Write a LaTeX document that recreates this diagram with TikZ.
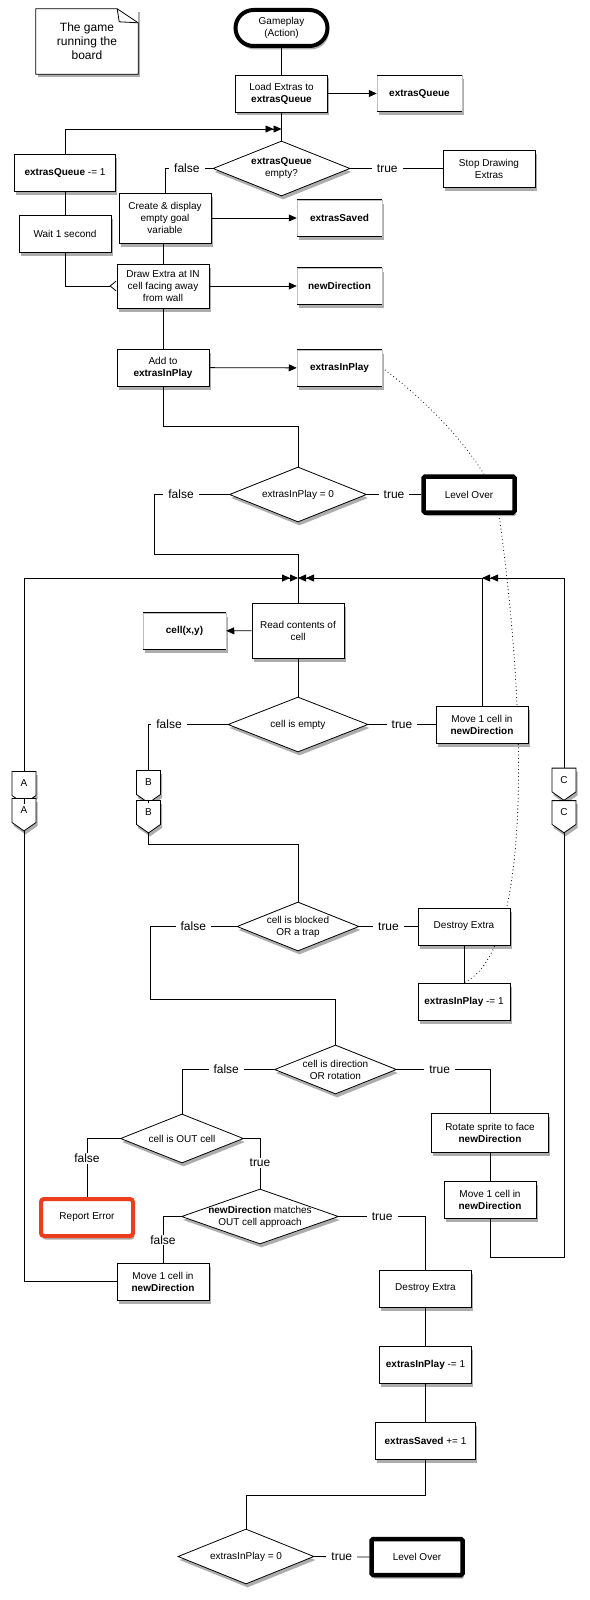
\documentclass[tikz,border=0pt]{standalone}
\usepackage{fontspec}
\setmainfont{Liberation Sans}
\usetikzlibrary{arrows.meta,positioning,calc,shapes.geometric,shapes.symbols,shadows,backgrounds}
\definecolor{errred}{RGB}{236,62,30}

\begin{document}
\begin{tikzpicture}[
    x=1pt, y=-1pt,
    font=\fontsize{10}{12}\selectfont,
    shd/.style={drop shadow={shadow xshift=1.5pt, shadow yshift=-3.5pt, opacity=0.32, fill=black}},
    box/.style={draw, fill=white, line width=0.8pt, align=center, minimum width=92pt, minimum height=37pt, inner sep=2pt, shd},
    datastore/.style={fill=white, draw=black!25, line width=0.5pt, minimum width=85pt, minimum height=36pt,
      font=\fontsize{10}{12}\selectfont\bfseries, shd,
      append after command={(\tikzlastnode.north west) edge[draw=black, line width=1.1pt] (\tikzlastnode.north east)
        (\tikzlastnode.south west) edge[draw=black, line width=1.1pt] (\tikzlastnode.south east)}},
    decision/.style={diamond, draw, fill=white, line width=0.8pt, align=center, aspect=2.5, inner sep=-4pt,
      minimum width=137pt, minimum height=55pt, shd},
    terminal/.style={draw, fill=white, line width=4pt, rounded corners=18pt, align=center, minimum width=92pt, minimum height=36pt, shd},
    endbox/.style={draw, fill=white, line width=4.5pt, rounded corners=1.5pt, minimum width=91pt, minimum height=36pt, shd},
    errbox/.style={draw=errred, fill=white, line width=4pt, rounded corners=3pt, minimum width=92pt, minimum height=37pt, shd},
    offpage/.style={signal, signal to=south, draw, fill=white, line width=0.8pt, minimum width=24pt, minimum height=27pt,
      signal pointer angle=110, inner sep=1pt, shd},
    notebox/.style={fill=white, align=center, minimum width=102pt, minimum height=65pt, font=\fontsize{12}{14}\selectfont, shd},
    lbl/.style={fill=white, inner xsep=5pt, inner ysep=1pt, font=\fontsize{12}{14}\selectfont},
    conn/.style={line width=0.8pt},
    ar/.style={conn, -{Triangle[length=8pt,width=7pt]}},
    merge/.style={conn, -{Triangle[length=8pt,width=7pt] Triangle[length=8pt,width=7pt]}},
    barb/.style={conn, -{Straight Barb[reversed,length=6pt,width=10pt]}},
    dots/.style={line width=1.1pt, line cap=round, dash pattern=on 0pt off 3.6pt},
  ]
    \useasboundingbox (0,0) rectangle (589,1600);

    % note
    \node[notebox] (note) at (87,41.5) {The game\\running the\\board};
    \draw[conn] (note.north west) -- ([xshift=-21pt]note.north east) -- ([yshift=-14pt]note.north east)
      -- (note.south east) -- (note.south west) -- cycle;
    \draw[conn] ([xshift=-21pt]note.north east) -- ([xshift=-19pt,yshift=-13pt]note.north east) -- ([yshift=-14pt]note.north east);

    % loading the extras
    \node[terminal] (start) at (281.5,28) {Gameplay\\(Action)};
    \node[box] (load) at (281.5,93.5) {Load Extras to\\\textbf{extrasQueue}};
    \node[datastore] (dq) at (419.5,93.5) {extrasQueue};
    \node[decision] (dec1) at (281.5,168.5) {\textbf{extrasQueue}\\empty?};
    \node[box] (stop) at (489,168.5) {Stop Drawing\\Extras};
    \node[box, minimum width=101pt] (dec) at (65,172.5) {\textbf{extrasQueue} -= 1};
    \node[box] (wait) at (65,233.5) {Wait 1 second};
    \node[box, minimum height=50pt] (create) at (165,218) {Create \& display\\empty goal\\variable};
    \node[datastore] (ds) at (339.5,218) {extrasSaved};
    \node[box, minimum height=44pt] (place) at (163,286) {Draw Extra at IN\\cell facing away\\from wall};
    \node[datastore] (dn) at (339.5,286) {newDirection};
    \node[box] (add) at (163,367.5) {Add to\\\textbf{extrasInPlay}};
    \node[datastore] (dp) at (339.5,368) {extrasInPlay};
    \node[decision] (dec2) at (298,494.5) {extrasInPlay = 0};
    \node[endbox] (over1) at (469,494.5) {Level Over};

    % moving one extra
    \node[box, minimum height=55pt] (read) at (298,630.5) {Read contents of\\cell};
    \node[datastore, minimum width=83pt] (dc) at (184.5,631) {cell(x,y)};
    \node[decision, minimum width=140pt] (dec3) at (298,724.5) {cell is empty};
    \node[box] (move1) at (482,724.5) {Move 1 cell in\\\textbf{newDirection}};
    \node[offpage] (A1) at (24,783.5) {A};
    \node[offpage] (A2) at (24,810.5) {A};
    \node[offpage] (B1) at (148.5,782.5) {B};
    \node[offpage] (B2) at (148.5,812.5) {B};
    \node[offpage] (C1) at (564,780) {C};
    \node[offpage] (C2) at (564,812.5) {C};
    \node[decision, minimum width=122pt, minimum height=49pt] (dec4) at (298,926.5) {cell is blocked\\OR a trap};
    \node[box] (destroy1) at (464,926.5) {Destroy Extra};
    \node[box] (ip1) at (464,1001.5) {\textbf{extrasInPlay} -= 1};
    \node[decision, minimum width=122pt, minimum height=49pt] (dec5) at (335.5,1069.5) {cell is direction\\OR rotation};
    \node[box, minimum width=117pt, minimum height=39pt] (rotate) at (490,1132.5) {Rotate sprite to face\\\textbf{newDirection}};
    \node[box] (move3) at (490,1199.5) {Move 1 cell in\\\textbf{newDirection}};
    \node[decision, minimum width=123pt, minimum height=49pt] (dec6) at (182,1138.5) {cell is OUT cell};
    \node[errbox] (error) at (87,1217.5) {Report Error};
    \node[decision, minimum width=157pt, aspect=2.85] (dec7) at (260,1216.5) {\textbf{newDirection} matches\\OUT cell approach};
    \node[box] (move2) at (163,1281.5) {Move 1 cell in\\\textbf{newDirection}};
    \node[box] (destroy2) at (425.5,1288.5) {Destroy Extra};
    \node[box] (ip2) at (425.5,1364.5) {\textbf{extrasInPlay} -= 1};
    \node[box, minimum width=100pt] (saved) at (425.5,1440.5) {\textbf{extrasSaved} += 1};
    \node[decision, minimum width=136pt] (dec8) at (246,1556.5) {extrasInPlay = 0};
    \node[endbox] (over2) at (417,1557) {Level Over};

    % bends and joins
    \coordinate (jt) at (281.5,129);
    \coordinate (k2) at (298,426);
    \coordinate (k3) at (154,554);
    \coordinate (jn) at (298,578);
    \coordinate (jr) at (482,578);
    \coordinate (k4) at (150,999);
    \coordinate (k5) at (298,844);
    \coordinate (k6) at (564,1257);
    \coordinate (k8) at (246,1495);

    \draw[conn] (start) -- (load);
    \draw[ar] (load) -- (dq);
    \draw[conn] (load) -- (dec1);
    \draw[merge] (dec.north) |- (jt);
    \draw[conn] (dec1.east) -- node[lbl, pos=0.4] {true} (stop.west);
    \draw[conn] (dec1.west) -| node[lbl, pos=0.27] {false} (create.north);
    \draw[ar] (create) -- (ds);
    \draw[conn] (create.south -| place.north) -- (place.north);
    \draw[conn] (dec) -- (wait);
    \draw[barb] (wait.south) |- (place.west);
    \draw[ar] (place) -- (dn);
    \draw[conn] (place) -- (add);
    \draw[ar] (add) -- (dp);
    \draw[conn] (add.south) |- (k2) -- (dec2.north);
    \draw[conn] (dec2.east) -- node[lbl] {true} (over1.west);
    \draw[conn] (dec2.west) -| node[lbl, pos=0.32] {false} (k3) -| (read.north);

    \draw[merge] (A1.north) |- (jn);
    \draw[merge] (move1.north) |- (jn);
    \draw[merge] (C1.north) |- (jr);
    \draw[ar] (read) -- (dc);
    \draw[conn] (read) -- (dec3);
    \draw[conn] (dec3.east) -- node[lbl] {true} (move1.west);
    \draw[conn] (dec3.west) -| node[lbl, pos=0.37] {false} (B1.north);
    \draw[conn] (A1.south) -- (A2.north);
    \draw[conn] (B1.south) -- (B2.north);
    \draw[conn] (C1.south) -- (C2.north);
    \draw[conn] (B2.south) |- (k5) -- (dec4.north);
    \draw[conn] (dec4.east) -- node[lbl] {true} (destroy1.west);
    \draw[conn] (destroy1) -- (ip1);
    \draw[conn] (dec4.west) -| node[lbl, pos=0.25] {false} (k4) -| (dec5.north);
    \draw[conn] (dec5.east) -| node[lbl, pos=0.23] {true} (rotate.north);
    \draw[conn] (rotate) -- (move3);
    \draw[conn] (move3.south) |- (k6) -- (C2.south);
    \draw[conn] (dec5.west) -| node[lbl, pos=0.26] {false} (dec6.north);
    \draw[conn] (dec6.west) -| node[lbl, pos=0.67] {false} (error.north);
    \draw[conn] (dec6.east) -| node[lbl, pos=0.745] {true} (dec7.north);
    \draw[conn] (dec7.west) -| node[lbl, pos=0.755] {false} (move2.north);
    \draw[conn] (move2.west) -| (A2.south);
    \draw[conn] (dec7.east) -| node[lbl, pos=0.25] {true} (destroy2.north);
    \draw[conn] (destroy2) -- (ip2);
    \draw[conn] (ip2) -- (saved);
    \draw[conn] (saved.south) |- (k8) -- (dec8.north);
    \draw[conn] (dec8.east) -- node[lbl] {true} (over2.west);

    % counter links
    \begin{pgfonlayer}{background}
      \draw[dots] (dp.east) .. controls (415,392) and (458,432) .. ([xshift=15pt]over1.north);
      \draw[dots] ([xshift=30pt]over1.south) .. controls (525,700) and (535,950) .. (ip1.north);
    \end{pgfonlayer}
  \end{tikzpicture}
\end{document}
